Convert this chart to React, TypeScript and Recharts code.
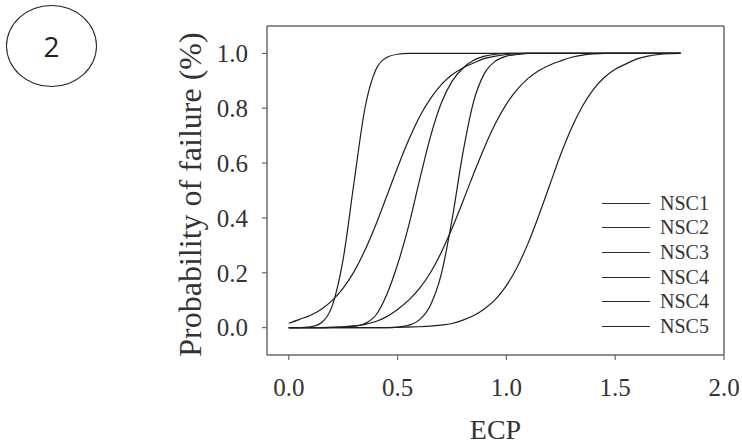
import { LineChart, Line, XAxis, YAxis, ReferenceLine, Legend } from "recharts";

// ECP sampling points (x axis)
const ecp = [
  0, 0.05, 0.1, 0.15, 0.2, 0.25, 0.3, 0.35, 0.4, 0.45, 0.5, 0.55, 0.6, 0.65,
  0.7, 0.75, 0.8, 0.85, 0.9, 0.95, 1.0, 1.05, 1.1, 1.15, 1.2, 1.25, 1.3, 1.35,
  1.4, 1.45, 1.5, 1.55, 1.6, 1.65, 1.7, 1.75, 1.8,
];

// probability of failure per curve
const nsc1 = [
  0, 0, 0.003, 0.018, 0.08, 0.25, 0.53, 0.8, 0.94, 0.985, 0.997, 1, 1, 1,
  1, 1, 1, 1, 1, 1, 1, 1, 1, 1, 1, 1, 1, 1,
  1, 1, 1, 1, 1, 1, 1, 1, 1,
];
const nsc2 = [
  0.016, 0.03, 0.045, 0.067, 0.099, 0.144, 0.204, 0.282, 0.375, 0.479, 0.584, 0.682, 0.767, 0.834,
  0.885, 0.922, 0.947, 0.965, 0.982, 0.99, 0.996, 0.999, 1, 1, 1, 1, 1, 1,
  1, 1, 1, 1, 1, 1, 1, 1, 1,
];
const nsc3 = [
  0, 0, 0, 0, 0.001, 0.002, 0.005, 0.015, 0.045, 0.12, 0.23, 0.368, 0.534, 0.693,
  0.817, 0.898, 0.946, 0.975, 0.99, 0.997, 1, 1, 1, 1, 1, 1, 1, 1,
  1, 1, 1, 1, 1, 1, 1, 1, 1,
];
const nsc4a = [
  0, 0, 0, 0, 0, 0, 0, 0, 0, 0, 0.002, 0.008, 0.028, 0.08,
  0.192, 0.392, 0.636, 0.826, 0.928, 0.972, 0.99, 0.996, 1, 1, 1, 1, 1, 1,
  1, 1, 1, 1, 1, 1, 1, 1, 1,
];
const nsc4b = [
  0, 0, 0, 0, 0.001, 0.003, 0.006, 0.012, 0.022, 0.04, 0.066, 0.099, 0.142, 0.199,
  0.273, 0.361, 0.46, 0.562, 0.659, 0.745, 0.815, 0.869, 0.909, 0.938, 0.958, 0.973, 0.986, 0.994,
  0.998, 1, 1, 1, 1, 1, 1, 1, 1,
];
const nsc5 = [
  0, 0, 0, 0, 0, 0, 0, 0, 0, 0, 0.001, 0.002, 0.003, 0.005,
  0.009, 0.015, 0.027, 0.044, 0.069, 0.103, 0.153, 0.221, 0.308, 0.411, 0.522, 0.632, 0.729, 0.808,
  0.869, 0.912, 0.942, 0.962, 0.98, 0.99, 0.996, 0.999, 1,
];

const series = [
  { key: "s1", name: "NSC1", values: nsc1 },
  { key: "s2", name: "NSC2", values: nsc2 },
  { key: "s3", name: "NSC3", values: nsc3 },
  { key: "s4", name: "NSC4", values: nsc4a },
  { key: "s5", name: "NSC4", values: nsc4b },
  { key: "s6", name: "NSC5", values: nsc5 },
];

const xTicks = [0, 0.5, 1.0, 1.5, 2.0];
const yTicks = [0, 0.2, 0.4, 0.6, 0.8, 1.0];

const rows = ecp.map((x, i) => {
  const r: Record<string, number> = { x };
  series.forEach((s) => (r[s.key] = s.values[i]));
  return r;
});

const SERIF = "'Liberation Serif', 'DejaVu Serif', serif";
const AXIS = "#6a6a6a";

function YTitle({ viewBox }: any) {
  const cy = viewBox.y + viewBox.height / 2 + 4;
  return (
    <text
      x={190}
      y={cy}
      transform={`rotate(-90 190 ${cy})`}
      textAnchor="middle"
      dominantBaseline="central"
      fontFamily={SERIF}
      fontSize={32}
      fill="#333"
    >
      Probability of failure (%)
    </text>
  );
}

function LegendBox({ payload }: any) {
  return (
    <div style={{ fontFamily: SERIF, fontSize: 20, color: "#333" }}>
      {(payload || []).map((p: any, i: number) => (
        <div key={i} style={{ display: "flex", alignItems: "center", height: 24.6 }}>
          <div style={{ width: 48, borderTop: "1.3px solid #2a2a2a", marginRight: 10 }} />
          <span>{p.value}</span>
        </div>
      ))}
    </div>
  );
}

export default function App() {
  return (
    <div style={{ position: "absolute", left: 0, top: 0, width: 742, height: 445, background: "#fff" }}>
      <div
        style={{
          position: "absolute",
          left: 6,
          top: 5,
          width: 89,
          height: 80,
          border: "1.5px solid #222",
          borderRadius: "50%",
          display: "flex",
          alignItems: "center",
          justifyContent: "center",
          fontFamily: "'Open Sans', sans-serif",
          fontSize: 28,
          color: "#222",
        }}
      >
        2
      </div>
      <LineChart
        width={742}
        height={445}
        data={rows}
        margin={{ top: 26, right: 18, left: 0, bottom: 0 }}
      >
        <XAxis
          dataKey="x"
          type="number"
          domain={[-0.1, 2.0]}
          ticks={xTicks}
          allowDataOverflow
          height={90}
          tickSize={5}
          tickMargin={18}
          tickFormatter={(v: number) => v.toFixed(1)}
          tick={{ fill: "#333", fontSize: 25, fontFamily: SERIF }}
          axisLine={{ stroke: AXIS, strokeWidth: 1.5 }}
          tickLine={{ stroke: AXIS, strokeWidth: 1.2 }}
          label={{
            value: "ECP",
            position: "insideBottom",
            offset: 6,
            fill: "#333",
            fontSize: 28,
            fontFamily: SERIF,
          }}
        />
        <YAxis
          type="number"
          domain={[-0.1, 1.1]}
          ticks={yTicks}
          allowDataOverflow
          width={267}
          tickSize={5}
          tickMargin={14}
          tickFormatter={(v: number) => v.toFixed(1)}
          tick={{ fill: "#333", fontSize: 25, fontFamily: SERIF }}
          axisLine={{ stroke: AXIS, strokeWidth: 1.5 }}
          tickLine={{ stroke: AXIS, strokeWidth: 1.2 }}
          label={<YTitle />}
        />
        <ReferenceLine y={1.1} stroke={AXIS} strokeWidth={1.5} />
        <ReferenceLine x={2.0} stroke={AXIS} strokeWidth={1.5} />
        {series.map((s) => (
          <Line
            key={s.key}
            dataKey={s.key}
            name={s.name}
            type="monotone"
            stroke="#1e1e1e"
            strokeWidth={1.2}
            dot={false}
            activeDot={false}
            isAnimationActive={false}
          />
        ))}
        <Legend
          layout="horizontal"
          verticalAlign="middle"
          align="center"
          content={<LegendBox />}
          wrapperStyle={{ left: 602, top: 191, width: 140, height: 150 }}
        />
      </LineChart>
    </div>
  );
}
